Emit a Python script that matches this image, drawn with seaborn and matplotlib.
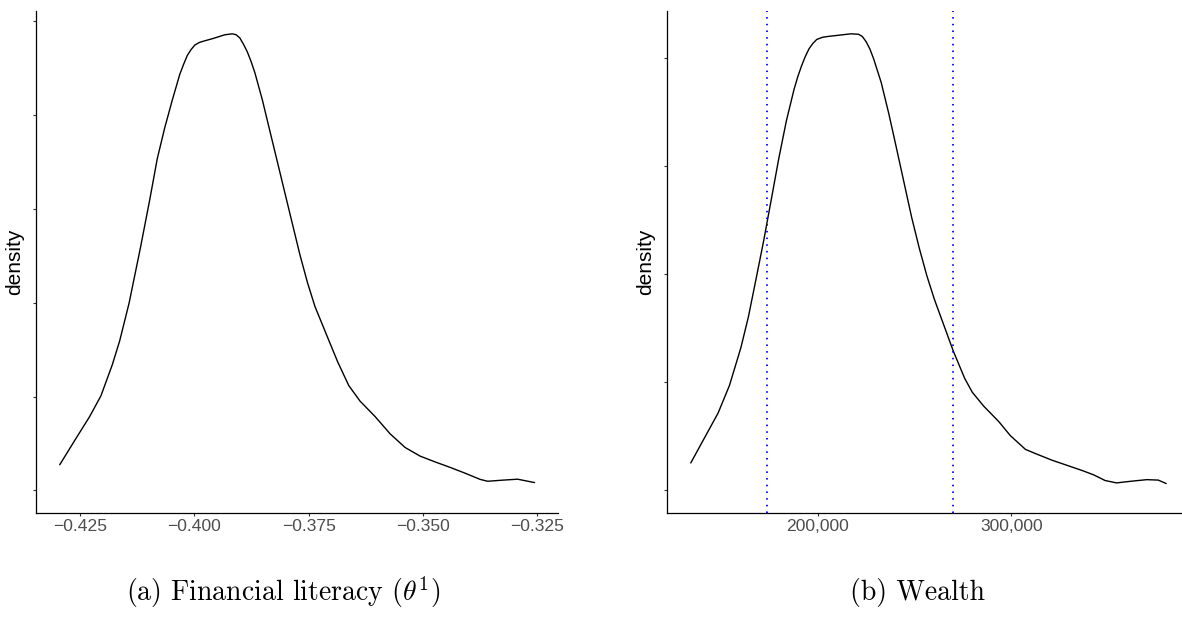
import matplotlib
matplotlib.use("Agg")
import matplotlib.pyplot as plt
from matplotlib.ticker import FuncFormatter
import seaborn as sns
import pandas as pd

# Estimated density of financial literacy (theta^1)
literacy_x = [-0.4295, -0.42623, -0.42294, -0.42048, -0.41801, -0.41637, -0.41431,
              -0.41184, -0.40979, -0.40814, -0.40650, -0.40485, -0.40321, -0.40238,
              -0.40156, -0.40074, -0.39992, -0.39893, -0.39786, -0.39580, -0.39334,
              -0.39169, -0.39087, -0.39005, -0.38922, -0.38840, -0.38758, -0.38676,
              -0.38511, -0.38347, -0.38182, -0.38018, -0.37853, -0.37689, -0.37525,
              -0.37360, -0.37113, -0.36866, -0.36620, -0.36373, -0.36044, -0.35715,
              -0.35386, -0.35057, -0.34728, -0.34400, -0.34071, -0.33742, -0.33577,
              -0.33248, -0.32919, -0.3255]
literacy_density = [1.37, 2.66, 3.94, 5.04, 6.68, 7.97, 9.98,
                    12.91, 15.48, 17.67, 19.32, 20.79, 22.16, 22.69,
                    23.17, 23.48, 23.72, 23.86, 23.94, 24.08, 24.27,
                    24.32, 24.27, 24.10, 23.75, 23.35, 22.84, 22.25,
                    20.79, 19.14, 17.49, 15.84, 14.19, 12.55, 11.08,
                    9.80, 8.33, 6.87, 5.59, 4.76, 3.94, 3.02,
                    2.29, 1.83, 1.52, 1.23, 0.92, 0.59, 0.49,
                    0.55, 0.60, 0.42]
literacy_ticks = [-0.425, -0.400, -0.375, -0.350, -0.325]
literacy_yticks = [0, 5, 10, 15, 20, 25]

# Estimated density of wealth
wealth_x = [134314, 140588, 148431, 154314, 160196, 164118, 168039, 171961,
            175882, 179804, 183725, 187647, 189608, 191569, 193529, 195490,
            197451, 199412, 202353, 205294, 211176, 217059, 220980, 222941,
            224902, 226863, 228824, 232745, 236667, 240588, 244510, 248431,
            252353, 256275, 260196, 266078, 270000, 275882, 279804, 285686,
            293529, 299412, 307255, 313137, 320980, 328824, 336667, 342549,
            348431, 354314, 362157, 370000, 375882, 380000]
wealth_density = [6.36e-7, 1.15e-6, 1.79e-6, 2.43e-6, 3.30e-6, 4.02e-6, 4.89e-6, 5.77e-6,
                  6.72e-6, 7.68e-6, 8.55e-6, 9.27e-6, 9.57e-6, 9.82e-6, 1.004e-5, 1.022e-5,
                  1.034e-5, 1.043e-5, 1.048e-5, 1.050e-5, 1.053e-5, 1.056e-5, 1.055e-5, 1.050e-5,
                  1.038e-5, 1.021e-5, 9.98e-6, 9.43e-6, 8.71e-6, 7.92e-6, 7.12e-6, 6.32e-6,
                  5.61e-6, 4.97e-6, 4.42e-6, 3.70e-6, 3.22e-6, 2.59e-6, 2.27e-6, 1.95e-6,
                  1.59e-6, 1.27e-6, 9.5e-7, 8.4e-7, 7.0e-7, 5.8e-7, 4.6e-7, 3.6e-7,
                  2.3e-7, 1.75e-7, 2.15e-7, 2.5e-7, 2.4e-7, 1.6e-7]
wealth_ticks = [200000, 300000]
wealth_yticks = [0, 2.5e-6, 5e-6, 7.5e-6, 1e-5]
wealth_cutoffs = [173500, 269700]

captions = ["(a) Financial literacy ($\\theta^1$)", "(b) Wealth"]

sns.set_theme(style="ticks")
plt.rcParams["font.family"] = ["Liberation Sans", "DejaVu Sans"]
plt.rcParams["mathtext.fontset"] = "cm"

fig = plt.figure(figsize=(11.82, 6.2), dpi=100)
ax_a = fig.add_axes([36 / 1182, 106.7 / 620, 522.3 / 1182, 502.3 / 620])
ax_b = fig.add_axes([667 / 1182, 106.7 / 620, 523 / 1182, 502.3 / 620])


def expanded(lo, hi, frac=0.05):
    pad = (hi - lo) * frac
    return lo - pad, hi + pad


def style_panel(ax, xs, ys, xticks, yticks, fmt):
    ax.set_xlim(*expanded(min(xs), max(xs)))
    ax.set_ylim(*expanded(0, max(ys)))
    ax.set_xticks(xticks)
    ax.set_yticks(yticks)
    ax.xaxis.set_major_formatter(FuncFormatter(fmt))
    ax.set_yticklabels([])
    ax.set_xlabel("")
    ax.set_ylabel("density", fontsize=15, color="black", labelpad=4)
    sns.despine(ax=ax)
    for side in ("left", "bottom"):
        ax.spines[side].set_color("black")
        ax.spines[side].set_linewidth(0.9)
    ax.tick_params(axis="both", length=2.4, width=0.8, color="#333333",
                   labelsize=12.6, labelcolor="#4D4D4D", pad=2)
    ax.set_facecolor("white")


lit_df = pd.DataFrame({"theta": literacy_x, "density": literacy_density})
line_kw = dict(color="black", linewidth=1.0, sort=False,
               solid_joinstyle="round", solid_capstyle="round")
sns.lineplot(data=lit_df, x="theta", y="density", ax=ax_a, **line_kw)
style_panel(ax_a, literacy_x, literacy_density, literacy_ticks, literacy_yticks,
            lambda v, p: f"{v:.3f}".replace("-", "\u2212"))

wealth_df = pd.DataFrame({"wealth": wealth_x, "density": wealth_density})
for c in wealth_cutoffs:
    ax_b.axvline(c, color="#0000FF", linewidth=1.3, linestyle=(0, (0.85, 2.85)))
sns.lineplot(data=wealth_df, x="wealth", y="density", ax=ax_b, **line_kw)
style_panel(ax_b, wealth_x, wealth_density, wealth_ticks, wealth_yticks,
            lambda v, p: f"{v:,.0f}")

fig.text(283 / 1182, 0.045, captions[0], family="cmr10", fontsize=20,
         ha="center", va="center", color="black")
fig.text(918 / 1182, 0.045, captions[1], family="cmr10", fontsize=20,
         ha="center", va="center", color="black")

fig.savefig("out.png", dpi=100, facecolor="white")
